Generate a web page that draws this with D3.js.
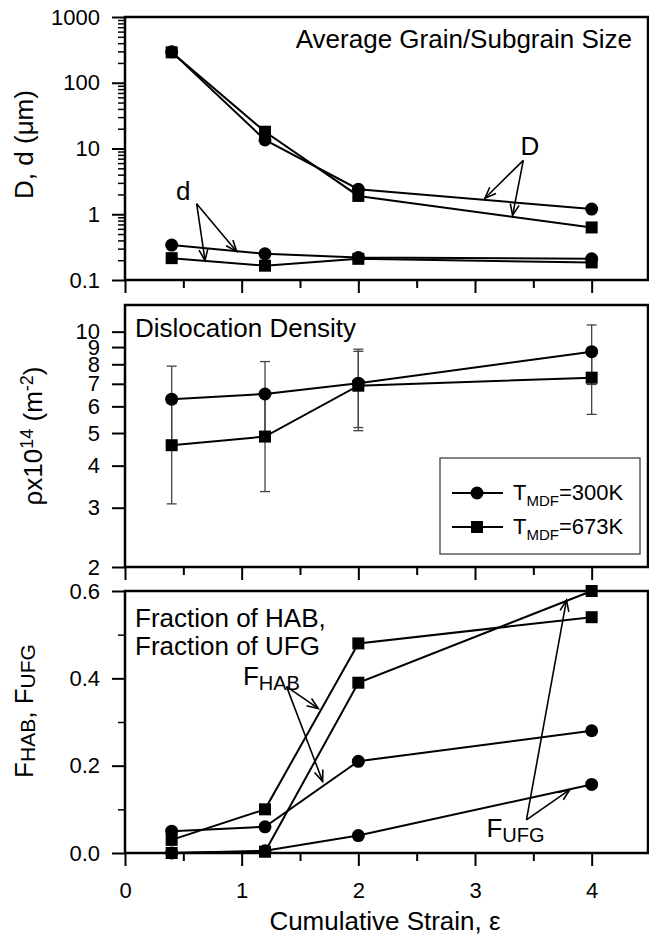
<!DOCTYPE html>
<html>
<head>
<meta charset="utf-8">
<script src="https://cdn.jsdelivr.net/npm/d3@7"></script>
<style>
  body { margin: 0; background: #fff; }
  text { font-family: "Liberation Sans", Arial, sans-serif; fill: #000; }
</style>
</head>
<body>
<div id="chart"></div>
<script>
// ---- data ----
var strain = [0.4, 1.2, 2, 4];

// grain size D and subgrain size d (um)
var D300 = [295, 13.5, 2.4, 1.2];
var D673 = [290, 18, 1.9, 0.63];
var d300 = [0.34, 0.25, 0.22, 0.21];
var d673 = [0.215, 0.165, 0.21, 0.185];

// dislocation density (x10^14 m^-2) with error bars
var rho300 = [6.3, 6.53, 7.03, 8.72];
var rho300Err = [1.6, 1.62, 1.84, 1.75];
var rho673 = [4.6, 4.88, 6.91, 7.3];
var rho673Err = [1.52, 1.53, 1.83, 1.62];

// fractions of HAB and UFG
var fHab300 = [0.05, 0.06, 0.21, 0.28];
var fHab673 = [0.03, 0.1, 0.48, 0.54];
var fUfg300 = [0, 0.005, 0.04, 0.157];
var fUfg673 = [0, 0.003, 0.39, 0.6];

// ticks
var xMajor = [0, 1, 2, 3, 4];
var xMinor = [0.5, 1.5, 2.5, 3.5, 4.5];
var sizeTicks = [0.1, 1, 10, 100, 1000];
var rhoTicks = [2, 3, 4, 5, 6, 7, 8, 9, 10];
var fracTicks = [0, 0.2, 0.4, 0.6];
var fracMinor = [0.1, 0.3, 0.5];

var legendLabels = ['300K', '673K'];

// ---- set up ----
var svgWidth = 649;
var svgHeight = 935;
var svg = d3.select('#chart').append('svg')
  .attr('width', svgWidth)
  .attr('height', svgHeight);
svg.append('rect').attr('width', svgWidth).attr('height', svgHeight).attr('fill', '#fff');

var x = d3.scaleLinear().domain([0, 4.5]).range([125, 650]);
var ySize = d3.scaleLog().domain([0.1, 1000]).range([280, 17]);
var yRho = d3.scaleLog().domain([2, 12]).range([567, 305]);
var yFrac = d3.scaleLinear().domain([0, 0.6]).range([853, 591]);

function styleAxis(g) {
  g.select('.domain').remove();
  g.attr('font-family', '"Liberation Sans", Arial, sans-serif').attr('font-size', 22);
  g.selectAll('line').attr('stroke', '#000').attr('stroke-width', 2);
  g.selectAll('text').attr('fill', '#000');
}

function frame(y) {
  var y0 = y.range()[0], y1 = y.range()[1];
  svg.append('rect')
    .attr('x', x(0)).attr('y', y1)
    .attr('width', x(4.5) - 2 - x(0)).attr('height', y0 - y1)
    .attr('fill', 'none').attr('stroke', '#000').attr('stroke-width', 2.5);
}

function xAxes(y, withLabels) {
  var yb = y.range()[0];
  var g1 = svg.append('g').attr('transform', 'translate(0,' + yb + ')')
    .call(d3.axisBottom(x).tickValues(xMajor).tickSize(13).tickPadding(16)
      .tickFormat(withLabels ? d3.format('d') : function() { return ''; }));
  styleAxis(g1);
  var g2 = svg.append('g').attr('transform', 'translate(0,' + yb + ')')
    .call(d3.axisBottom(x).tickValues(xMinor).tickSize(8).tickFormat(''));
  styleAxis(g2);
}

function yAxes(y, major, fmt, minor) {
  var g1 = svg.append('g').attr('transform', 'translate(' + x(0) + ',0)')
    .call(d3.axisLeft(y).tickValues(major).tickSize(13).tickPadding(12).tickFormat(fmt));
  styleAxis(g1);
  if (minor) {
    var g2 = svg.append('g').attr('transform', 'translate(' + x(0) + ',0)')
      .call(d3.axisLeft(y).tickValues(minor).tickSize(7).tickFormat(''));
    styleAxis(g2);
    g2.selectAll('line').attr('stroke-width', 1.5);
  }
}

function series(y, vals, shape) {
  var pts = strain.map(function(s, i) { return [x(s), y(vals[i])]; });
  svg.append('path')
    .attr('d', d3.line()(pts))
    .attr('fill', 'none').attr('stroke', '#000').attr('stroke-width', 2);
  marks(pts, shape);
}

function marks(pts, shape) {
  if (shape === 'circle') {
    svg.selectAll(null).data(pts).enter().append('circle')
      .attr('cx', function(p) { return p[0]; })
      .attr('cy', function(p) { return p[1]; })
      .attr('r', 6.5).attr('fill', '#000');
  } else {
    svg.selectAll(null).data(pts).enter().append('rect')
      .attr('x', function(p) { return p[0] - 6; })
      .attr('y', function(p) { return p[1] - 6; })
      .attr('width', 12).attr('height', 12).attr('fill', '#000');
  }
}

function errorBars(y, vals, errs) {
  strain.forEach(function(s, i) {
    var cx = x(s), top = y(vals[i] + errs[i]), bot = y(vals[i] - errs[i]);
    var g = svg.append('g').attr('stroke', '#444').attr('stroke-width', 1.3);
    g.append('line').attr('x1', cx).attr('x2', cx).attr('y1', top).attr('y2', bot);
    g.append('line').attr('x1', cx - 5).attr('x2', cx + 5).attr('y1', top).attr('y2', top);
    g.append('line').attr('x1', cx - 5).attr('x2', cx + 5).attr('y1', bot).attr('y2', bot);
  });
}

// arrow with an open V head, points given in data units
function arrow(y, from, to) {
  var x1 = x(from[0]), y1 = y(from[1]), x2 = x(to[0]), y2 = y(to[1]);
  var a = Math.atan2(y2 - y1, x2 - x1);
  var len = 12, spread = 0.38;
  var g = svg.append('g').attr('stroke', '#000').attr('stroke-width', 1.6).attr('fill', 'none');
  g.append('line').attr('x1', x1).attr('y1', y1).attr('x2', x2).attr('y2', y2);
  g.append('path').attr('d',
    'M' + (x2 - len * Math.cos(a - spread)) + ',' + (y2 - len * Math.sin(a - spread)) +
    'L' + x2 + ',' + y2 +
    'L' + (x2 - len * Math.cos(a + spread)) + ',' + (y2 - len * Math.sin(a + spread)));
}

// ---- top panel: grain / subgrain size ----
yAxes(ySize, sizeTicks, function(d) { return d3.format('')(d); },
  d3.range(-1, 3).reduce(function(acc, e) {
    for (var k = 2; k <= 9; k++) acc.push(k * Math.pow(10, e));
    return acc;
  }, []));
xAxes(ySize, false);
series(ySize, D673, 'square');
series(ySize, D300, 'circle');
series(ySize, d673, 'square');
series(ySize, d300, 'circle');
frame(ySize);

svg.append('text').attr('x', 632).attr('y', 48).attr('text-anchor', 'end')
  .attr('font-size', 26).text('Average Grain/Subgrain Size');

svg.append('text').attr('x', x(0.5)).attr('y', ySize(1.65)).attr('text-anchor', 'middle')
  .attr('font-size', 26).text('d');
arrow(ySize, [0.614, 1.45], [0.686, 0.198]);
arrow(ySize, [0.614, 1.45], [0.957, 0.272]);

svg.append('text').attr('x', x(3.47)).attr('y', ySize(7.9)).attr('text-anchor', 'middle')
  .attr('font-size', 26).text('D');
arrow(ySize, [3.414, 6.6], [3.085, 1.75]);
arrow(ySize, [3.414, 6.6], [3.322, 0.96]);

svg.append('text').attr('transform', 'translate(33,' + ((ySize.range()[0] + ySize.range()[1]) / 2 - 4) + ') rotate(-90)')
  .attr('text-anchor', 'middle').attr('font-size', 26).text('D, d  (\u03bcm)');

// ---- middle panel: dislocation density ----
yAxes(yRho, rhoTicks, d3.format('d'));
xAxes(yRho, false);
errorBars(yRho, rho300, rho300Err);
errorBars(yRho, rho673, rho673Err);
series(yRho, rho300, 'circle');
series(yRho, rho673, 'square');
frame(yRho);

svg.append('text').attr('x', 135).attr('y', 337).attr('font-size', 26).text('Dislocation Density');

var ylab2 = svg.append('text')
  .attr('transform', 'translate(42,' + ((yRho.range()[0] + yRho.range()[1]) / 2) + ') rotate(-90)')
  .attr('text-anchor', 'middle').attr('font-size', 26);
ylab2.append('tspan').text('\u03c1x10');
ylab2.append('tspan').attr('font-size', 18).attr('dy', -9).text('14');
ylab2.append('tspan').attr('dy', 9).text(' (m');
ylab2.append('tspan').attr('font-size', 18).attr('dy', -9).text('-2');
ylab2.append('tspan').attr('dy', 9).text(')');

// legend
var legend = svg.append('g');
legend.append('rect').attr('x', 440).attr('y', 458).attr('width', 200).attr('height', 96)
  .attr('fill', '#fff').attr('stroke', '#333').attr('stroke-width', 1.2);
legendLabels.forEach(function(lab, i) {
  var ly = 493 + i * 34;
  legend.append('line').attr('x1', 452).attr('x2', 503).attr('y1', ly).attr('y2', ly)
    .attr('stroke', '#000').attr('stroke-width', 2);
  if (i === 0) {
    legend.append('circle').attr('cx', 477).attr('cy', ly).attr('r', 6.5).attr('fill', '#000');
  } else {
    legend.append('rect').attr('x', 471).attr('y', ly - 6).attr('width', 12).attr('height', 12).attr('fill', '#000');
  }
  var t = legend.append('text').attr('x', 513).attr('y', ly + 7).attr('font-size', 22);
  t.append('tspan').text('T');
  t.append('tspan').attr('font-size', 15).attr('dy', 6).text('MDF');
  t.append('tspan').attr('dy', -6).text('=' + lab);
});

// ---- bottom panel: fractions ----
yAxes(yFrac, fracTicks, d3.format('.1f'), fracMinor);
xAxes(yFrac, true);
series(yFrac, fHab300, 'circle');
series(yFrac, fUfg300, 'circle');
series(yFrac, fHab673, 'square');
series(yFrac, fUfg673, 'square');
frame(yFrac);

svg.append('text').attr('x', 135).attr('y', 627).attr('font-size', 26).text('Fraction of HAB,');
svg.append('text').attr('x', 135).attr('y', 655).attr('font-size', 26).text('Fraction of UFG');

var fh = svg.append('text').attr('x', x(1.011)).attr('y', yFrac(0.385)).attr('font-size', 26);
fh.append('tspan').text('F');
fh.append('tspan').attr('font-size', 20).attr('dy', 5).text('HAB');
arrow(yFrac, [1.385, 0.381], [1.656, 0.331]);
arrow(yFrac, [1.385, 0.381], [1.694, 0.164]);

var fu = svg.append('text').attr('x', x(3.098)).attr('y', yFrac(0.0355)).attr('font-size', 26);
fu.append('tspan').text('F');
fu.append('tspan').attr('font-size', 20).attr('dy', 5).text('UFG');
arrow(yFrac, [3.441, 0.076], [3.784, 0.579]);
arrow(yFrac, [3.441, 0.076], [3.813, 0.145]);

var ylab3 = svg.append('text')
  .attr('transform', 'translate(33,' + ((yFrac.range()[0] + yFrac.range()[1]) / 2 - 11) + ') rotate(-90)')
  .attr('text-anchor', 'middle').attr('font-size', 26);
ylab3.append('tspan').text('F');
ylab3.append('tspan').attr('font-size', 21).attr('dy', 2).text('HAB');
ylab3.append('tspan').attr('dy', -2).text(', F');
ylab3.append('tspan').attr('font-size', 21).attr('dy', 2).text('UFG');

// x axis title
svg.append('text').attr('x', 385).attr('y', 930).attr('text-anchor', 'middle')
  .attr('font-size', 26).text('Cumulative Strain, \u03b5');
</script>
</body>
</html>
